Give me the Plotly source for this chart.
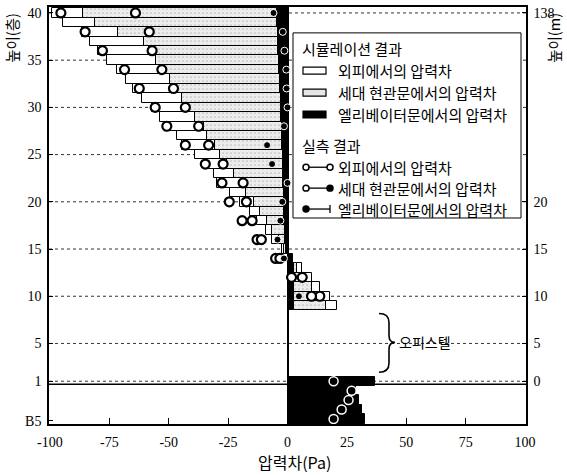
import plotly.graph_objects as go

# ---------------- data ----------------
# floor levels (0, -1, -2, -3 = basement levels below floor 1)
floors = [40, 39, 38, 37, 36, 35, 34, 33, 32, 31, 30, 29, 28, 27, 26, 25, 24, 23, 22, 21,
          20, 19, 18, 17, 16, 15, 14, 13, 12, 11, 10, 9, 1, 0, -1, -2, -3]

# simulated pressure differences (Pa), stacked: elevator door, unit entrance door, exterior wall
elev_sim = [-4.5, -4.5, -4.2, -4.0, -3.8, -3.6, -3.4, -3.2, -3.0, -2.9, -2.8, -2.6, -2.5, -2.3, -2.2,
            -2.0, -1.9, -1.8, -1.7, -1.6, -1.5, -1.4, -1.3, -1.2, -1.1, -0.8, 2.5, 2.7, 2.7, 2.7,
            2.7, 2.7, 37.0, 29.0, 30.0, 31.5, 32.5]
unit_sim = [-81.5, -76.5, -67.0, -56.6, -54.7, -51.9, -49.1, -46.2, -43.5, -41.5, -40.7, -36.2, -32.5,
            -31.5, -28.2, -26.3, -23.5, -20.8, -16.0, -15.7, -12.7, -10.0, -7.3, -5.3, -2.6, -0.5,
            None, 1.5, 3.5, 7.7, 12.6, 13.3, None, None, None, None, None]
ext_sim = [-13.0, -13.5, -15.4, -22.5, -21.1, -20.3, -19.4, -18.5, -18.4, -16.9, -13.6, -14.8, -15.3,
           -12.6, -13.9, -10.5, -9.9, -8.5, -12.0, -6.7, -5.6, -4.2, -4.2, -2.4, -2.8, -0.9,
           None, 2.0, 4.2, 3.2, 2.4, 5.0, None, None, None, None, None]

# measured values (Pa)
meas_floors = [40, 38, 36, 34, 32, 30, 28, 26, 24, 22, 20, 18, 16, 14, 12, 10]
meas_ext = [-95.4, -85.2, -77.9, -68.6, -62.4, -55.7, -50.8, -43.0, -34.6, -27.6, -24.5, -19.1,
            -12.8, -5.0, 6.2, 13.6]
meas_unit = [-64.0, -58.2, -57.0, -52.9, -48.0, -43.0, -37.4, -33.2, -27.1, -18.7, -17.3, -14.9,
             -11.0, -3.2, 1.7, 10.1]
meas_elev = [-5.9, -2.0, -1.3, -0.5, -0.4, 0.0, -1.5, -8.6, -6.5, 0.0, -2.2, -3.0, -4.2, -1.5,
             None, 4.8]
low_floors = [1, 0, -1, -2, -3]
meas_low = [19.4, 27.0, 25.7, 22.8, 19.4]

# axis ticks
x_ticks = [-100, -75, -50, -25, 0, 25, 50, 75, 100]
left_tick_pos = [-3.2, 1, 5, 10, 15, 20, 25, 30, 35, 40]
left_tick_text = ["B5", "1", "5", "10", "15", "20", "25", "30", "35", "40"]
right_tick_pos = [1, 5, 10, 15, 20, 40]
right_tick_text = ["0", "5", "10", "15", "20", "138"]
grid_floors = [1, 5, 10, 15, 20, 25, 30, 35, 40]

legend_sim = ["외피에서의 압력차", "세대 현관문에서의 압력차", "엘리베이터문에서의 압력차"]
legend_meas = ["외피에서의 압력차", "세대 현관문에서의 압력차", "엘리베이터문에서의 압력차"]

# ---------------- layout helpers ----------------
W_FIG, H_FIG = 567, 475
L, R, T, B = 49, 41, 5, 51
PW, PH = W_FIG - L - R, H_FIG - T - B


def px(x):
    return (x - L) / PW


def py(y):
    return (T + PH - y) / PH


KFONT = "Noto Sans CJK KR"
SFONT = "Liberation Serif"

fig = go.Figure()

fig.add_bar(y=floors, x=elev_sim, orientation="h", showlegend=False,
            marker=dict(color="black", line=dict(color="black", width=1)))
fig.add_bar(y=floors, x=unit_sim, orientation="h", showlegend=False,
            marker=dict(color="#e9e9e9", line=dict(color="black", width=1),
                        pattern=dict(shape=".", fgcolor="#8c8c8c", bgcolor="#ececec",
                                     size=4, solidity=0.15)))
fig.add_bar(y=floors, x=ext_sim, orientation="h", showlegend=False,
            marker=dict(color="white", line=dict(color="black", width=1)))

fig.add_scatter(y=meas_floors, x=meas_ext, mode="markers", showlegend=False,
                marker=dict(symbol="circle", size=9, color="white",
                            line=dict(color="black", width=2.2)))
fig.add_scatter(y=meas_floors, x=meas_unit, mode="markers", showlegend=False,
                marker=dict(symbol="circle", size=9, color="white",
                            line=dict(color="black", width=2.2)))
fig.add_scatter(y=meas_floors, x=meas_elev, mode="markers", showlegend=False,
                marker=dict(symbol="circle", size=7, color="black",
                            line=dict(color="white", width=1)))
fig.add_scatter(y=low_floors, x=meas_low, mode="markers", showlegend=False,
                marker=dict(symbol="circle-open", size=9, color="white",
                            line=dict(color="white", width=1.5)))
fig.add_scatter(y=[None], x=[None], yaxis="y2", mode="markers", showlegend=False)

shapes = []
for f in grid_floors:
    shapes.append(dict(type="line", xref="paper", x0=0, x1=1, yref="y", y0=f, y1=f,
                       line=dict(color="#333333", width=1, dash="dot"), layer="below"))
# ground line
shapes.append(dict(type="line", xref="paper", x0=0, x1=1, yref="y", y0=0.68, y1=0.68,
                   line=dict(color="black", width=1.5), layer="below"))

# legend box
shapes.append(dict(type="rect", xref="paper", yref="paper", x0=px(293), x1=px(521),
                   y0=py(217), y1=py(31), fillcolor="white",
                   line=dict(color="black", width=1), layer="above"))

sim_rows = [69, 91, 113]
meas_rows = [166, 187, 208]
sim_fill = ["white", "#e6e6e6", "black"]
for yy, fc in zip(sim_rows, sim_fill):
    shapes.append(dict(type="rect", xref="paper", yref="paper", x0=px(303), x1=px(326),
                       y0=py(yy + 3.5), y1=py(yy - 3.5), fillcolor=fc,
                       line=dict(color="black", width=1.2), layer="above"))


def circ(cx, cy, r, fill):
    return dict(type="circle", xref="paper", yref="paper", x0=px(cx - r), x1=px(cx + r),
                y0=py(cy + r), y1=py(cy - r), fillcolor=fill,
                line=dict(color="black", width=1.5), layer="above")


for i, yy in enumerate(meas_rows):
    shapes.append(dict(type="line", xref="paper", yref="paper", x0=px(306), x1=px(330),
                       y0=py(yy), y1=py(yy), line=dict(color="black", width=1.3),
                       layer="above"))
    if i == 0:
        shapes.append(circ(306, yy, 3, "white"))
        shapes.append(circ(330, yy, 3, "white"))
    elif i == 1:
        shapes.append(circ(306, yy, 3, "white"))
        shapes.append(circ(330, yy, 3, "black"))
    else:
        shapes.append(circ(306, yy, 3, "black"))
        shapes.append(dict(type="line", xref="paper", yref="paper", x0=px(330), x1=px(330),
                           y0=py(yy - 4), y1=py(yy + 4), line=dict(color="black", width=1.3),
                           layer="above"))

# brace for office floors
brace = ("M {a},{b} Q {c},{b} {c},{d} L {c},{e} Q {c},{f} {g},{f} Q {c},{f} {c},{h} "
         "L {c},{i} Q {c},{j} {a},{j}").format(
    a=px(379), b=py(313), c=px(389), d=py(322), e=py(335), f=py(342), g=px(395),
    h=py(349), i=py(363), j=py(372))
shapes.append(dict(type="path", xref="paper", yref="paper", path=brace,
                   line=dict(color="black", width=1.6), layer="above"))

annotations = []


def txt(x, y, s, size=14, angle=0, xanchor="left", font=KFONT):
    annotations.append(dict(text=s, x=px(x), y=py(y), xref="paper", yref="paper",
                            showarrow=False, xanchor=xanchor, yanchor="middle",
                            textangle=angle, font=dict(family=font, size=size, color="black")))


txt(300, 47, "시뮬레이션 결과", size=15)
for yy, s in zip(sim_rows, legend_sim):
    txt(336, yy, s, size=15)
txt(300, 144, "실측 결과", size=15)
for yy, s in zip(meas_rows, legend_meas):
    txt(336, yy, s, size=15)
txt(397, 342, "오피스텔", size=14)
txt(12, 36, "높이(층)", size=14.5, angle=-90, xanchor="center")
txt(554, 36, "높이(m)", size=14.5, angle=-90, xanchor="center")
txt(294, 462, "압력차(Pa)", size=16, xanchor="center")

tickfont = dict(family=SFONT, size=14, color="black")
fig.update_layout(
    width=W_FIG, height=H_FIG,
    margin=dict(l=L, r=R, t=T, b=B, pad=0),
    barmode="relative", bargap=0,
    plot_bgcolor="white", paper_bgcolor="white",
    shapes=shapes, annotations=annotations,
    xaxis=dict(range=[-100.4, 100.4], tickmode="array", tickvals=x_ticks,
               ticktext=[str(v) for v in x_ticks], ticks="inside", ticklen=6,
               tickcolor="black", tickwidth=1.3, showline=True, linecolor="black",
               linewidth=1.5, mirror=True, showgrid=False, zeroline=True,
               zerolinecolor="black", zerolinewidth=1.5, tickfont=tickfont,
               ticklabelstandoff=4),
    yaxis=dict(range=[-3.53, 40.63], tickmode="array", tickvals=left_tick_pos,
               ticktext=left_tick_text, ticks="inside", ticklen=4, tickcolor="black",
               showline=True, linecolor="black", linewidth=1.5, mirror=True,
               showgrid=False, zeroline=False, tickfont=tickfont, ticklabelstandoff=3),
    yaxis2=dict(range=[-3.53, 40.63], overlaying="y", side="right", tickmode="array",
                tickvals=right_tick_pos, ticktext=right_tick_text, ticks="inside",
                ticklen=4, tickcolor="black", showline=True, linecolor="black",
                linewidth=1.5, showgrid=False, zeroline=False, tickfont=tickfont,
                ticklabelstandoff=3),
)

fig.write_html("out.html")
